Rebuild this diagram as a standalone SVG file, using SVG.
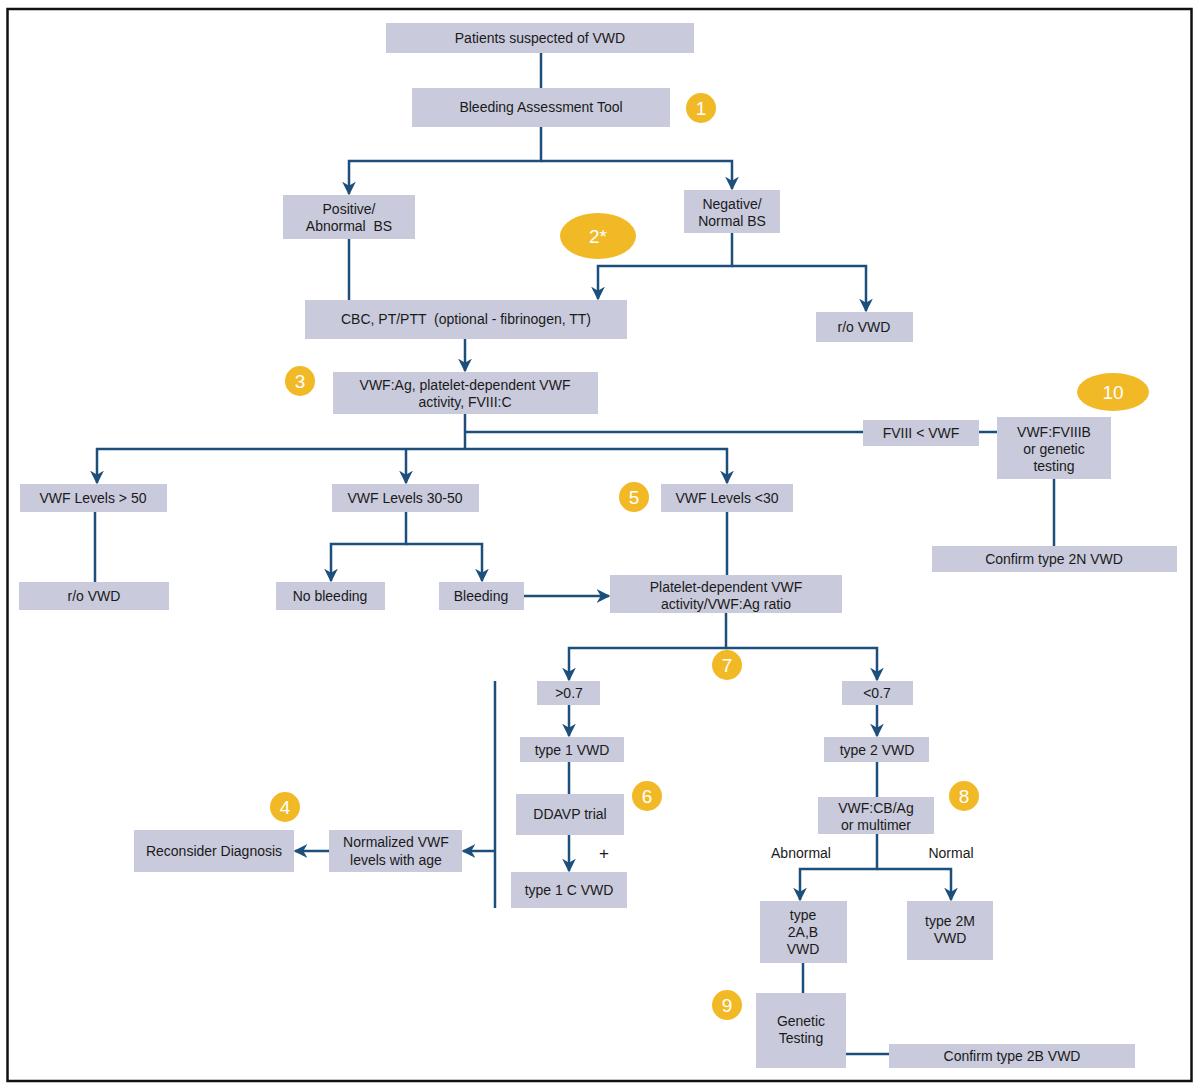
<svg xmlns="http://www.w3.org/2000/svg" width="1200" height="1092" viewBox="0 0 1200 1092">
<style>
.b{fill:#c9cadc}
.t{font-family:"Liberation Sans",Arial,sans-serif;font-size:14px;fill:#1a1a1a;text-anchor:middle;white-space:pre}
.c{fill:none;stroke:#1d4f7c;stroke-width:2.5}
.g{fill:#f2b927}
.n{font-family:"Liberation Sans",Arial,sans-serif;font-size:19px;fill:#fff;text-anchor:middle}
</style>
<defs>
<marker id="a" viewBox="0 0 10 10" refX="9" refY="5" markerWidth="5.5" markerHeight="5.5" orient="auto" markerUnits="strokeWidth">
<path d="M0,0 L10,5 L0,10 L3,5 Z" fill="#1d4f7c"/>
</marker>
</defs>
<rect x="0" y="0" width="1200" height="1092" fill="#fff"/>
<rect x="7.5" y="9" width="1184" height="1072" fill="none" stroke="#111" stroke-width="2.5"/>

<g id="connectors">
<path class="c" d="M541,53 V88"/>
<path class="c" d="M541,127 V161 H349 V194" marker-end="url(#a)"/>
<path class="c" d="M541,161 H732 V189" marker-end="url(#a)"/>
<path class="c" d="M349,239 V300"/>
<path class="c" d="M732,233 V266 H598 V299" marker-end="url(#a)"/>
<path class="c" d="M732,266 H866 V311" marker-end="url(#a)"/>
<path class="c" d="M465,339 V371" marker-end="url(#a)"/>
<path class="c" d="M465,414 V449"/>
<path class="c" d="M465,432 H863"/>
<path class="c" d="M979,432 H997"/>
<path class="c" d="M465,449 H97 V483" marker-end="url(#a)"/>
<path class="c" d="M406,449 V483" marker-end="url(#a)"/>
<path class="c" d="M465,449 H727 V483" marker-end="url(#a)"/>
<path class="c" d="M1054,479 V546"/>
<path class="c" d="M95,512 V582"/>
<path class="c" d="M406,512 V544 H331 V581" marker-end="url(#a)"/>
<path class="c" d="M406,544 H482 V581" marker-end="url(#a)"/>
<path class="c" d="M524,596 H609" marker-end="url(#a)"/>
<path class="c" d="M727,512 V575"/>
<path class="c" d="M726,613 V648 H569 V680" marker-end="url(#a)"/>
<path class="c" d="M726,648 H877 V680" marker-end="url(#a)"/>
<path class="c" d="M569,705 V736" marker-end="url(#a)"/>
<path class="c" d="M569,762 V794"/>
<path class="c" d="M569,835 V871" marker-end="url(#a)"/>
<path class="c" d="M495,681 V908"/>
<path class="c" d="M495,851 H463" marker-end="url(#a)"/>
<path class="c" d="M329,851 H295" marker-end="url(#a)"/>
<path class="c" d="M877,705 V736" marker-end="url(#a)"/>
<path class="c" d="M877,762 V797"/>
<path class="c" d="M877,834 V869 H800 V900" marker-end="url(#a)"/>
<path class="c" d="M877,869 H951 V900" marker-end="url(#a)"/>
<path class="c" d="M803,963 V993"/>
<path class="c" d="M846,1054 H889"/>
</g>

<g id="n-patients"><rect class="b" x="386" y="23" width="308" height="30"/><text class="t" x="540" y="43">Patients suspected of VWD</text></g>
<g id="n-bat"><rect class="b" x="412" y="88" width="258" height="39"/><text class="t" x="541" y="112">Bleeding Assessment Tool</text></g>
<g id="n-positive"><rect class="b" x="283" y="195" width="132" height="44"/><text class="t" x="349" y="214">Positive/</text><text class="t" x="349" y="231">Abnormal  BS</text></g>
<g id="n-negative"><rect class="b" x="684" y="190" width="96" height="43"/><text class="t" x="732" y="209">Negative/</text><text class="t" x="732" y="226">Normal BS</text></g>
<g id="n-cbc"><rect class="b" x="305" y="300" width="322" height="39"/><text class="t" x="466" y="324">CBC, PT/PTT  (optional - fibrinogen, TT)</text></g>
<g id="n-ro1"><rect class="b" x="816" y="312" width="97" height="30"/><text class="t" x="864" y="332">r/o VWD</text></g>
<g id="n-vwfag"><rect class="b" x="333" y="372" width="265" height="42"/><text class="t" x="465" y="390">VWF:Ag, platelet-dependent VWF</text><text class="t" x="465" y="407">activity, FVIII:C</text></g>
<g id="n-fviii"><rect class="b" x="863" y="420" width="116" height="26"/><text class="t" x="921" y="438">FVIII &lt; VWF</text></g>
<g id="n-fviiib"><rect class="b" x="997" y="417" width="114" height="62"/><text class="t" x="1054" y="437">VWF:FVIIIB</text><text class="t" x="1054" y="454">or genetic</text><text class="t" x="1054" y="471">testing</text></g>
<g id="n-2n"><rect class="b" x="932" y="546" width="245" height="26"/><text class="t" x="1054" y="564">Confirm type 2N VWD</text></g>
<g id="n-gt50"><rect class="b" x="20" y="484" width="147" height="28"/><text class="t" x="93" y="503">VWF Levels &gt; 50</text></g>
<g id="n-ro2"><rect class="b" x="19" y="582" width="150" height="28"/><text class="t" x="94" y="601">r/o VWD</text></g>
<g id="n-3050"><rect class="b" x="332" y="484" width="147" height="28"/><text class="t" x="405" y="503">VWF Levels 30-50</text></g>
<g id="n-nobleed"><rect class="b" x="276" y="582" width="109" height="28"/><text class="t" x="330" y="601">No bleeding</text></g>
<g id="n-bleed"><rect class="b" x="439" y="582" width="85" height="28"/><text class="t" x="481" y="601">Bleeding</text></g>
<g id="n-lt30"><rect class="b" x="661" y="484" width="132" height="28"/><text class="t" x="727" y="503">VWF Levels &lt;30</text></g>
<g id="n-ratio"><rect class="b" x="610" y="575" width="232" height="38"/><text class="t" x="726" y="592">Platelet-dependent VWF</text><text class="t" x="726" y="609">activity/VWF:Ag ratio</text></g>
<g id="n-gt07"><rect class="b" x="537" y="681" width="63" height="24"/><text class="t" x="569" y="698">&gt;0.7</text></g>
<g id="n-type1"><rect class="b" x="520" y="737" width="104" height="25"/><text class="t" x="572" y="755">type 1 VWD</text></g>
<g id="n-ddavp"><rect class="b" x="516" y="794" width="108" height="41"/><text class="t" x="570" y="819">DDAVP trial</text></g>
<text class="t" x="604" y="859" style="font-size:17px">+</text>
<g id="n-type1c"><rect class="b" x="511" y="872" width="116" height="36"/><text class="t" x="569" y="895">type 1 C VWD</text></g>
<g id="n-normalized"><rect class="b" x="329" y="830" width="133" height="42"/><text class="t" x="396" y="847">Normalized VWF</text><text class="t" x="396" y="865">levels with age</text></g>
<g id="n-reconsider"><rect class="b" x="134" y="830" width="160" height="42"/><text class="t" x="214" y="856">Reconsider Diagnosis</text></g>
<g id="n-lt07"><rect class="b" x="842" y="681" width="71" height="24"/><text class="t" x="877" y="698">&lt;0.7</text></g>
<g id="n-type2"><rect class="b" x="824" y="737" width="105" height="25"/><text class="t" x="877" y="755">type 2 VWD</text></g>
<g id="n-cbag"><rect class="b" x="818" y="797" width="116" height="37"/><text class="t" x="876" y="813">VWF:CB/Ag</text><text class="t" x="876" y="830">or multimer</text></g>
<text class="t" x="801" y="858">Abnormal</text>
<text class="t" x="951" y="858">Normal</text>
<g id="n-2ab"><rect class="b" x="760" y="901" width="87" height="62"/><text class="t" x="803" y="920">type</text><text class="t" x="803" y="937">2A,B</text><text class="t" x="803" y="954">VWD</text></g>
<g id="n-2m"><rect class="b" x="907" y="901" width="86" height="59"/><text class="t" x="950" y="926">type 2M</text><text class="t" x="950" y="943">VWD</text></g>
<g id="n-genetic"><rect class="b" x="756" y="993" width="90" height="75"/><text class="t" x="801" y="1026">Genetic</text><text class="t" x="801" y="1043">Testing</text></g>
<g id="n-2b"><rect class="b" x="889" y="1044" width="246" height="24"/><text class="t" x="1012" y="1061">Confirm type 2B VWD</text></g>

<g id="badges">
<circle class="g" cx="701" cy="108" r="15"/><text class="n" x="701" y="115">1</text>
<ellipse class="g" cx="598" cy="236" rx="38" ry="23"/><text class="n" x="598" y="243">2*</text>
<circle class="g" cx="300" cy="381" r="15"/><text class="n" x="300" y="388">3</text>
<circle class="g" cx="285" cy="807" r="15"/><text class="n" x="285" y="814">4</text>
<circle class="g" cx="634" cy="497" r="15"/><text class="n" x="634" y="504">5</text>
<circle class="g" cx="647" cy="796" r="15"/><text class="n" x="647" y="803">6</text>
<circle class="g" cx="727" cy="665" r="15"/><text class="n" x="727" y="672">7</text>
<circle class="g" cx="964" cy="796" r="15"/><text class="n" x="964" y="803">8</text>
<circle class="g" cx="727" cy="1005" r="15"/><text class="n" x="727" y="1012">9</text>
<ellipse class="g" cx="1113" cy="392" rx="36" ry="19"/><text class="n" x="1113" y="399">10</text>
</g>
</svg>
